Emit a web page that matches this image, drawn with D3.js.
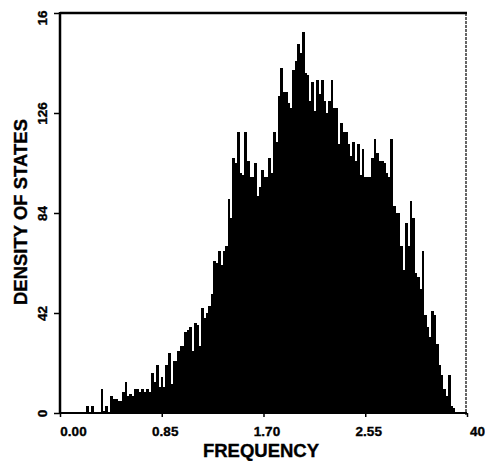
<!DOCTYPE html>
<html>
<head>
<meta charset="utf-8">
<script src="https://cdn.jsdelivr.net/npm/d3@7"></script>
<style>
body { margin: 0; background: #fff; }
svg text { font-family: "Liberation Sans", Arial, sans-serif; font-weight: bold; fill: #000; stroke: #000; stroke-width: 0.35px; }
</style>
</head>
<body>
<div id="chart"></div>
<script>
// histogram bins, width 0.02 starting at 0.00
var binWidth = 0.02
var densities = [
  0, 0, 0, 0, 0, 0, 0, 0, 0, 0,
  0, 3, 0, 3, 0, 0, 0, 10, 1, 3,
  0, 7, 6, 6, 5, 5, 9, 13, 7, 8,
  7, 10, 10, 9, 10, 9, 10, 9, 17, 13,
  20, 11, 15, 11, 20, 25, 12, 22, 22, 26,
  28, 28, 34, 35, 36, 26, 38, 37, 28, 44,
  40, 42, 45, 50, 64, 63, 68, 62, 68, 70,
  90, 82, 107, 105, 118, 101, 100, 118, 106, 99,
  99, 105, 91, 95, 102, 99, 99, 107, 101, 118,
  114, 133, 145, 135, 135, 130, 128, 144, 148, 155,
  151, 160, 143, 142, 131, 139, 127, 140, 134, 140,
  131, 126, 131, 140, 128, 128, 113, 122, 118, 118,
  113, 108, 114, 106, 113, 100, 111, 99, 99, 99,
  107, 115, 109, 106, 106, 105, 101, 99, 115, 87,
  84, 84, 70, 60, 80, 70, 89, 82, 59, 57,
  52, 68, 41, 36, 32, 43, 41, 29, 20, 16,
  10, 7, 16, 3, 2, 0
]
var xTicks = [0, 0.85, 1.70, 2.55, 3.40]
var xTickLabels = ["0.00", "0.85", "1.70", "2.55", "40"]
var yTicks = [0, 42, 84, 126, 168]
var yTickLabels = ["0", "42", "84", "126", "16"]

var width = 485, height = 461
var plotLeft = 60, plotRight = 467, plotTop = 13, plotBottom = 413

var svg = d3.select("#chart").append("svg")
  .attr("width", width)
  .attr("height", height)

var x = d3.scaleLinear().domain([0, 3.4]).range([plotLeft, plotRight])
var y = d3.scaleLinear().domain([0, 168]).range([plotBottom, plotTop])

var bins = densities.map((v, i) => ({ x0: i * binWidth, x1: (i + 1) * binWidth, value: v }))

svg.append("g").selectAll("rect")
    .data(bins.filter(d => d.value > 0))
  .enter().append("rect")
    .attr("x", d => x(d.x0))
    .attr("y", d => y(d.value))
    .attr("width", d => x(d.x1) - x(d.x0) + 0.4)
    .attr("height", d => y(0) - y(d.value))
    .attr("fill", "#000")
    .attr("shape-rendering", "crispEdges")

// x axis
var xAxis = svg.append("g")
  .attr("transform", "translate(0," + plotBottom + ")")
  .call(d3.axisBottom(x).tickValues(xTicks).tickSize(4).tickPadding(9)
    .tickFormat((d, i) => xTickLabels[i]))
xAxis.select(".domain").remove()
xAxis.selectAll(".tick line").attr("stroke-width", 1.5)
xAxis.selectAll(".tick text")
  .attr("font-size", 13.5)
  .attr("dx", (d, i) => i == 0 ? 13 : (i == xTicks.length - 1 ? 10 : 3))

// y axis
var yAxis = svg.append("g")
  .attr("transform", "translate(" + plotLeft + ",0)")
  .call(d3.axisLeft(y).tickValues(yTicks).tickSize(6)
    .tickFormat((d, i) => yTickLabels[i]))
yAxis.select(".domain").remove()
yAxis.selectAll(".tick line").attr("stroke-width", 1.5)
yAxis.selectAll(".tick text")
  .attr("font-size", 13.5)
  .attr("transform", "rotate(-90)")
  .attr("x", (d, i) => i == yTicks.length - 1 ? -12 : 0)
  .attr("y", -13)
  .attr("dy", 0)
  .attr("text-anchor", (d, i) => i == yTicks.length - 1 ? "start" : "middle")

// frame
svg.append("line").attr("x1", plotLeft).attr("x2", plotLeft).attr("y1", plotTop - 1).attr("y2", plotBottom + 1)
  .attr("stroke", "#000").attr("stroke-width", 2.5)
svg.append("line").attr("x1", plotLeft).attr("x2", plotRight).attr("y1", plotBottom).attr("y2", plotBottom)
  .attr("stroke", "#000").attr("stroke-width", 2)
svg.append("line").attr("x1", plotLeft).attr("x2", plotRight).attr("y1", plotTop).attr("y2", plotTop)
  .attr("stroke", "#000").attr("stroke-width", 2.5)
svg.append("line").attr("x1", plotRight - 1).attr("x2", plotRight - 1).attr("y1", plotTop).attr("y2", plotBottom + 2)
  .attr("stroke", "#000").attr("stroke-width", 1.2).attr("stroke-dasharray", "3,1")

// titles
svg.append("text")
  .attr("x", 261).attr("y", 457)
  .attr("text-anchor", "middle")
  .attr("font-size", 18.5)
  .text("FREQUENCY")

svg.append("text")
  .attr("transform", "translate(27,212) rotate(-90)")
  .attr("text-anchor", "middle")
  .attr("font-size", 18.5)
  .text("DENSITY OF STATES")
</script>
</body>
</html>
